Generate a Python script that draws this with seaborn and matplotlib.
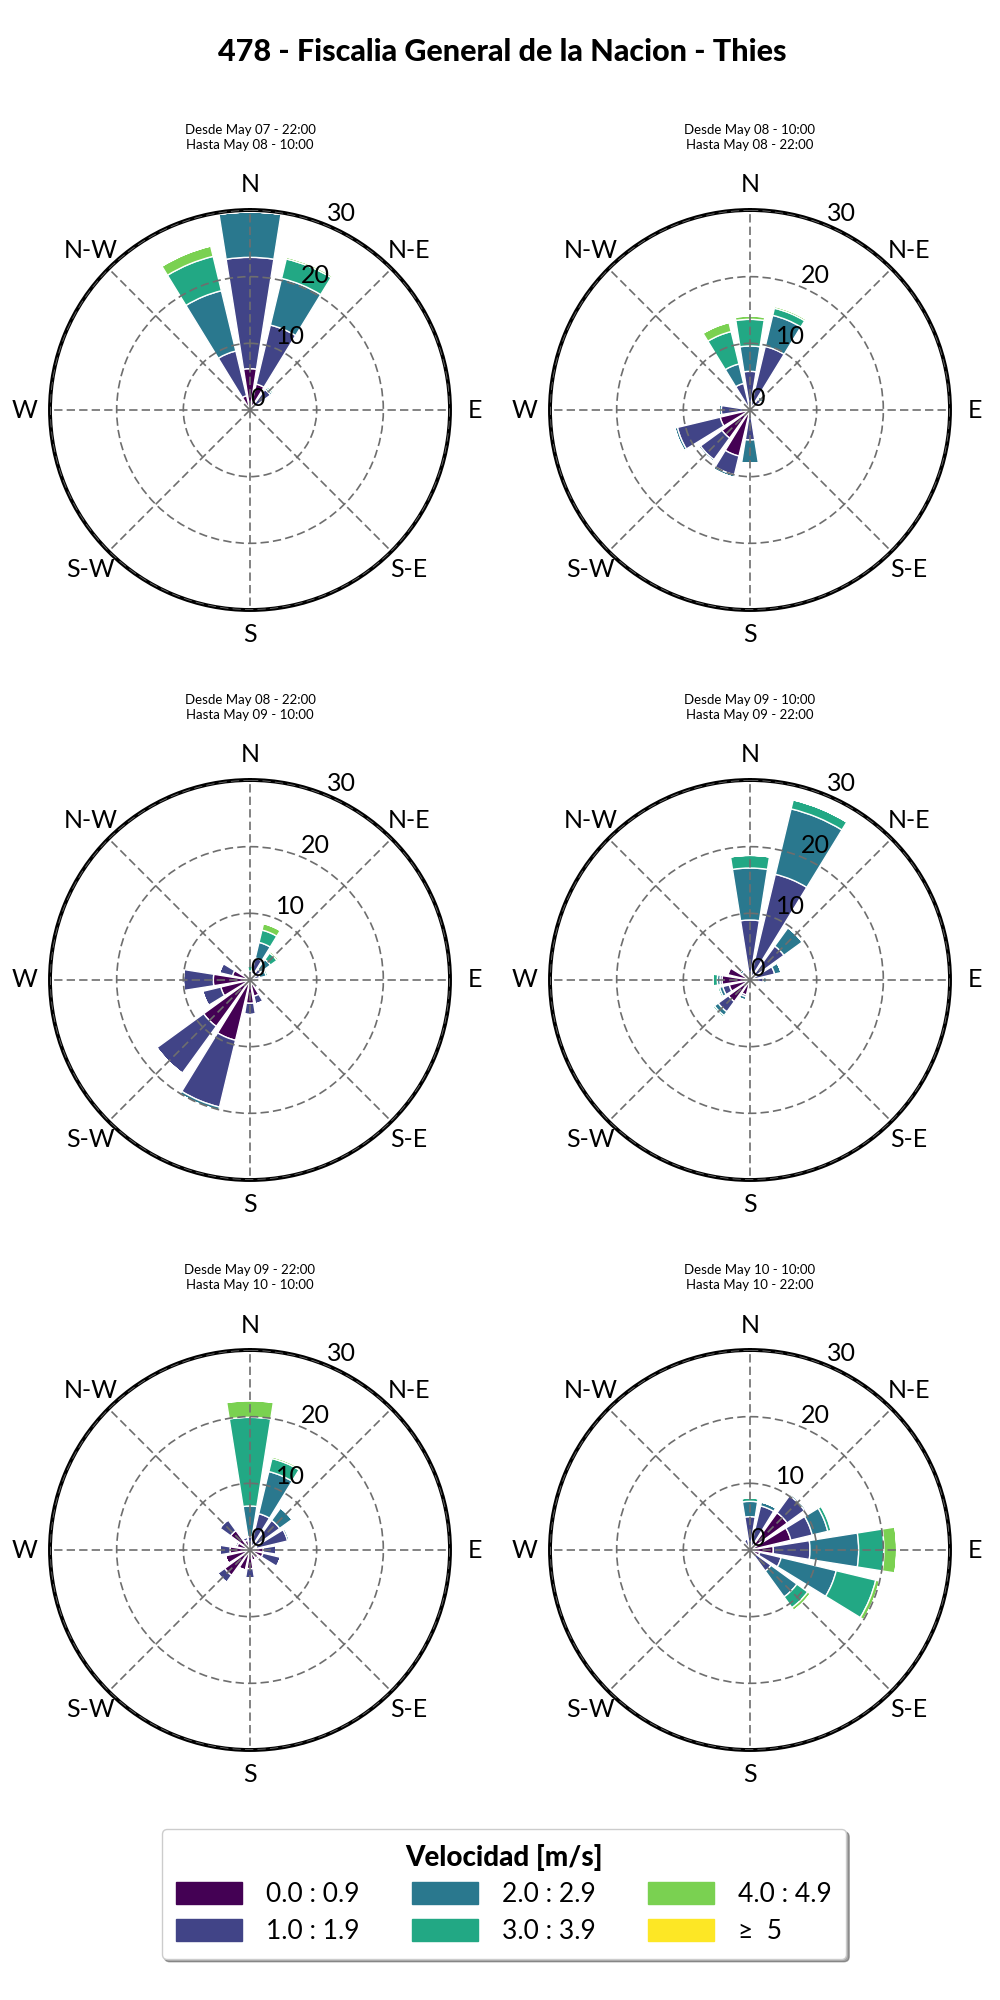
import numpy as np
import matplotlib
matplotlib.use("Agg")
import matplotlib.pyplot as plt
from matplotlib.patches import Patch
import seaborn as sns

# direcciones (16 sectores, desde el Norte en sentido horario)
direcciones = ["N", "NNE", "NE", "ENE", "E", "ESE", "SE", "SSE",
               "S", "SSW", "SW", "WSW", "W", "WNW", "NW", "NNW"]
rangos = ["0.0 : 0.9", "1.0 : 1.9", "2.0 : 2.9", "3.0 : 3.9", "4.0 : 4.9", "≥  5"]
titulo = "478 - Fiscalia General de la Nacion - Thies"
periodos = [
    "Desde May 07 - 22:00\nHasta May 08 - 10:00",
    "Desde May 08 - 10:00\nHasta May 08 - 22:00",
    "Desde May 08 - 22:00\nHasta May 09 - 10:00",
    "Desde May 09 - 10:00\nHasta May 09 - 22:00",
    "Desde May 09 - 22:00\nHasta May 10 - 10:00",
    "Desde May 10 - 10:00\nHasta May 10 - 22:00",
]

# frecuencias [%] por rango de velocidad (filas) y direccion (columnas)
#           N    NNE  NE   ENE  E    ESE  SE   SSE  S    SSW  SW   WSW  W    WNW  NW   NNW
rosa1 = [[6.2, 4.0, 1.0, 0.0, 0.0, 0.0, 0.0, 0.0, 0.0, 0.0, 0.0, 0.0, 0.0, 0.0, 0.0, 2.2],
         [16.7, 9.1, 2.8, 0.0, 0.0, 0.0, 0.0, 0.0, 0.0, 0.0, 0.0, 0.0, 0.0, 0.0, 0.0, 6.9],
         [6.8, 7.2, 0.3, 0.0, 0.0, 0.0, 0.0, 0.0, 0.0, 0.0, 0.0, 0.0, 0.0, 0.0, 0.0, 9.3],
         [0.0, 3.0, 0.3, 0.0, 0.0, 0.0, 0.0, 0.0, 0.0, 0.0, 0.0, 0.0, 0.0, 0.0, 0.0, 5.3],
         [0.0, 0.3, 0.0, 0.0, 0.0, 0.0, 0.0, 0.0, 0.0, 0.0, 0.0, 0.0, 0.0, 0.0, 0.0, 1.6],
         [0.0, 0.0, 0.0, 0.0, 0.0, 0.0, 0.0, 0.0, 0.0, 0.0, 0.0, 0.0, 0.0, 0.0, 0.0, 0.0]]

rosa2 = [[0.0, 0.3, 0.5, 0.0, 0.0, 0.0, 0.0, 0.3, 0.5, 7.1, 5.2, 4.6, 0.5, 0.0, 0.0, 0.3],
         [5.8, 9.5, 1.5, 0.0, 0.0, 0.0, 0.0, 0.0, 4.0, 2.9, 4.0, 6.6, 3.8, 0.0, 0.0, 3.8],
         [3.8, 4.8, 0.5, 0.0, 0.0, 0.0, 0.0, 0.3, 3.5, 0.4, 0.3, 0.4, 0.4, 0.0, 0.0, 3.0],
         [4.0, 1.1, 0.0, 0.0, 0.0, 0.0, 0.0, 0.0, 0.0, 0.0, 0.0, 0.0, 0.0, 0.0, 0.0, 5.0],
         [0.5, 0.3, 0.0, 0.0, 0.0, 0.0, 0.0, 0.0, 0.0, 0.0, 0.0, 0.0, 0.0, 0.0, 0.0, 1.4],
         [0.0, 0.0, 0.0, 0.0, 0.0, 0.0, 0.0, 0.0, 0.0, 0.0, 0.0, 0.0, 0.0, 0.0, 0.0, 0.0]]

rosa3 = [[0.3, 1.0, 0.5, 0.5, 0.3, 0.5, 1.0, 2.5, 3.5, 9.3, 8.6, 4.5, 5.5, 2.7, 0.8, 0.5],
         [0.4, 2.4, 1.5, 1.0, 0.3, 0.5, 0.5, 1.2, 1.7, 10.3, 8.7, 2.8, 4.5, 2.0, 0.0, 0.0],
         [0.6, 2.4, 1.8, 1.0, 0.0, 0.0, 0.0, 0.0, 0.0, 0.5, 0.0, 0.0, 0.0, 0.0, 0.0, 0.0],
         [0.8, 1.9, 1.2, 0.3, 0.0, 0.0, 0.0, 0.0, 0.0, 0.0, 0.0, 0.0, 0.0, 0.0, 0.0, 0.0],
         [0.0, 1.0, 0.3, 0.0, 0.0, 0.0, 0.0, 0.0, 0.0, 0.0, 0.0, 0.0, 0.0, 0.0, 0.0, 0.0],
         [0.0, 0.0, 0.0, 0.0, 0.0, 0.0, 0.0, 0.0, 0.0, 0.0, 0.0, 0.0, 0.0, 0.0, 0.0, 0.0]]

rosa4 = [[0.3, 0.3, 0.3, 0.3, 0.5, 0.0, 0.0, 0.0, 0.6, 2.3, 4.0, 3.2, 4.2, 3.4, 1.0, 0.3],
         [8.7, 16.0, 6.0, 3.5, 1.5, 0.0, 0.0, 0.0, 0.0, 0.3, 1.9, 1.0, 0.3, 0.2, 0.5, 0.3],
         [7.8, 10.1, 3.4, 1.0, 0.5, 0.0, 0.0, 0.0, 0.0, 0.5, 0.7, 0.5, 0.4, 0.2, 0.4, 0.0],
         [1.9, 1.4, 0.0, 0.0, 0.0, 0.0, 0.0, 0.0, 0.0, 0.0, 0.3, 0.3, 0.7, 0.0, 0.0, 0.0],
         [0.0, 0.0, 0.0, 0.0, 0.0, 0.0, 0.0, 0.0, 0.0, 0.0, 0.0, 0.0, 0.0, 0.0, 0.0, 0.0],
         [0.0, 0.0, 0.0, 0.0, 0.0, 0.0, 0.0, 0.0, 0.0, 0.0, 0.0, 0.0, 0.0, 0.0, 0.0, 0.0]]

rosa5 = [[0.5, 0.6, 0.8, 1.0, 2.0, 2.0, 1.5, 1.6, 2.8, 3.1, 4.7, 3.8, 3.0, 2.0, 3.6, 1.5],
         [1.5, 5.0, 4.7, 4.8, 1.9, 2.7, 0.3, 0.0, 1.4, 0.0, 1.3, 0.0, 1.5, 0.3, 2.0, 0.5],
         [4.6, 6.5, 2.3, 0.3, 0.0, 0.0, 0.0, 0.0, 0.0, 0.0, 0.0, 0.0, 0.0, 0.0, 0.0, 0.0],
         [13.3, 2.0, 0.0, 0.0, 0.0, 0.0, 0.0, 0.0, 0.0, 0.0, 0.0, 0.0, 0.0, 0.0, 0.0, 0.0],
         [2.5, 0.3, 0.0, 0.0, 0.0, 0.0, 0.0, 0.0, 0.0, 0.0, 0.0, 0.0, 0.0, 0.0, 0.0, 0.0],
         [0.0, 0.0, 0.0, 0.0, 0.0, 0.0, 0.0, 0.0, 0.0, 0.0, 0.0, 0.0, 0.0, 0.0, 0.0, 0.0]]

rosa6 = [[0.3, 0.5, 6.9, 6.3, 3.5, 1.5, 0.5, 0.3, 0.0, 0.0, 0.0, 0.0, 0.0, 0.0, 0.0, 0.5],
         [4.7, 6.3, 3.2, 3.3, 5.5, 3.3, 3.4, 0.0, 0.0, 0.0, 0.0, 0.0, 0.0, 0.0, 0.0, 1.2],
         [2.3, 0.6, 0.3, 2.4, 7.3, 8.5, 4.8, 0.6, 0.0, 0.0, 0.0, 0.0, 0.0, 0.0, 0.0, 0.0],
         [0.5, 0.0, 0.0, 0.5, 3.8, 6.1, 2.0, 0.0, 0.0, 0.0, 0.0, 0.0, 0.0, 0.0, 0.0, 0.0],
         [0.0, 0.0, 0.0, 0.2, 1.9, 0.6, 0.5, 0.0, 0.0, 0.0, 0.0, 0.0, 0.0, 0.0, 0.0, 0.0],
         [0.0, 0.0, 0.0, 0.0, 0.0, 0.0, 0.0, 0.0, 0.0, 0.0, 0.0, 0.0, 0.0, 0.0, 0.0, 0.0]]

rosas = [rosa1, rosa2, rosa3, rosa4, rosa5, rosa6]

sns.set_theme(style="white")
plt.rcParams["font.family"] = ["Lato", "DejaVu Sans"]
plt.rcParams["text.color"] = "black"
plt.rcParams["xtick.color"] = "black"
plt.rcParams["ytick.color"] = "black"

# viridis completo, de extremo a extremo
colores = [tuple(c) for c in plt.get_cmap("viridis")(np.linspace(0, 1, len(rangos)))]
theta = np.deg2rad(np.arange(len(direcciones)) * 22.5)
ancho = np.deg2rad(22.5 * 0.8)

fig = plt.figure(figsize=(10, 20), dpi=100)
fig.text(0.502, 0.974, titulo, ha="center", va="center", fontsize=22, fontweight="black")

centros = [(250, 410), (750, 410), (250, 980), (750, 980), (250, 1550), (750, 1550)]
for i, (cx, cy) in enumerate(centros):
    ax = fig.add_axes([cx / 1000 - 0.2, 1 - cy / 2000 - 0.1, 0.4, 0.2], projection="polar")
    ax.set_theta_zero_location("N")
    ax.set_theta_direction(-1)
    datos = np.array(rosas[i])
    base = np.zeros(len(direcciones))
    for j in range(len(rangos)):
        ax.bar(theta, datos[j], width=ancho, bottom=base, color=colores[j],
               edgecolor="white", linewidth=1)
        base = base + datos[j]
    ax.set_ylim(0, 30)
    ax.set_rgrids([0, 10, 20, 30], labels=["0", "10", "20", "30"])
    ax.set_rlabel_position(22.5)
    ax.set_thetagrids(np.arange(0, 360, 45),
                      labels=["N", "N-E", "E", "S-E", "S", "S-W", "W", "N-W"])
    ax.tick_params(axis="x", labelsize=18, pad=5, labelcolor="black")
    ax.tick_params(axis="y", labelsize=18, labelcolor="black")
    ax.set_axisbelow(False)
    ax.grid(True, color="#6e6e6e", linestyle=(0, (5, 2.5)), linewidth=1.2)
    ax.spines["polar"].set_linewidth(2.8)
    ax.spines["polar"].set_color("black")
    fig.text(cx / 1000, 1 - (cy - 272.5) / 2000, periodos[i], ha="center", va="center",
             fontsize=9.5, linespacing=1.35)

manijas = [Patch(facecolor=c, edgecolor=c) for c in colores]
leg = fig.legend(manijas, rangos, ncol=3, loc="center", bbox_to_anchor=(0.504, 0.053),
                 title="Velocidad [m/s]", fontsize=19, fancybox=True, shadow=True,
                 handlelength=2.5, handleheight=0.9, handletextpad=0.9, columnspacing=2.0,
                 borderpad=0.55, labelspacing=0.45)
leg.get_title().set_fontweight("black")
leg.get_title().set_fontsize(20)

fig.savefig("out.png", dpi=100)
plt.close(fig)
